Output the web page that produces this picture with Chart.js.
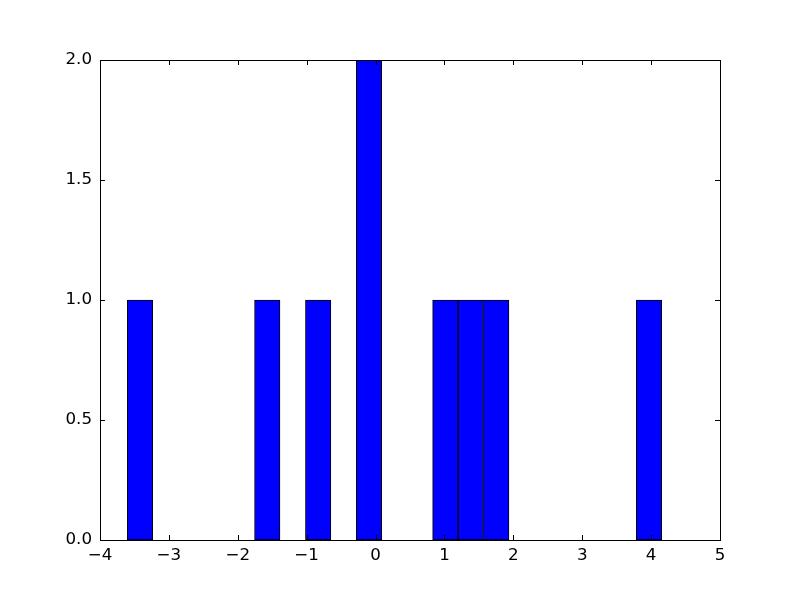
<!DOCTYPE html>
<html>
<head>
<meta charset="utf-8">
<script src="https://cdn.jsdelivr.net/npm/chart.js@4.4.0/dist/chart.umd.min.js"></script>
<style>
  html, body { margin: 0; padding: 0; background: #fff; }
  #wrap { width: 800px; height: 600px; }
</style>
</head>
<body>
<div id="wrap"><canvas id="hist" width="800" height="600"></canvas></div>
<script>
// histogram bins (centres) and counts
const binCenters = [-3.419, -3.050, -2.680, -2.311, -1.942, -1.572, -1.203, -0.833, -0.464, -0.095,
                    0.275, 0.644, 1.013, 1.383, 1.752, 2.122, 2.491, 2.861, 3.230, 3.599, 3.969];
const counts = [1, 0, 0, 0, 0, 1, 0, 1, 0, 2, 0, 0, 1, 1, 1, 0, 0, 0, 0, 0, 1];
const xTicks = [-4, -3, -2, -1, 0, 1, 2, 3, 4, 5];
const yTicks = [0.0, 0.5, 1.0, 1.5, 2.0];

let puntos = [];
for (let i = 0; i < binCenters.length; i++){
    puntos.push({x: binCenters[i], y: counts[i] > 0 ? counts[i] : null});
}

// matplotlib style frame with inward ticks on all sides
const marcoPlugin = {
  id: 'marco',
  afterDraw(chart) {
    const ctx = chart.ctx;
    const a = chart.chartArea;
    const sx = chart.scales.x, sy = chart.scales.y;
    const len = 5;
    ctx.save();
    ctx.strokeStyle = '#000';
    ctx.lineWidth = 1;
    ctx.beginPath();
    xTicks.forEach(v => {
      const px = Math.round(sx.getPixelForValue(v)) + 0.5;
      ctx.moveTo(px, a.bottom); ctx.lineTo(px, a.bottom - len);
      ctx.moveTo(px, a.top); ctx.lineTo(px, a.top + len);
    });
    yTicks.forEach(v => {
      const py = Math.round(sy.getPixelForValue(v)) + 0.5;
      ctx.moveTo(a.left, py); ctx.lineTo(a.left + len, py);
      ctx.moveTo(a.right, py); ctx.lineTo(a.right - len, py);
    });
    ctx.stroke();
    ctx.strokeRect(Math.round(a.left) + 0.5, Math.round(a.top) + 0.5,
                   Math.round(a.right - a.left), Math.round(a.bottom - a.top));
    ctx.restore();
  }
};

const ctx = document.getElementById('hist').getContext('2d');
const myChart = new Chart(ctx, {
  type: 'bar',
  data: {
    datasets: [{
      data: puntos,
      backgroundColor: '#0000ff',
      borderColor: '#000000',
      borderWidth: 1,
      borderSkipped: false,
      barPercentage: 1.0,
      categoryPercentage: 1.0
    }]
  },
  options: {
    responsive: false,
    animation: false,
    layout: { padding: { top: 60, right: 80, left: 0, bottom: 0 } },
    plugins: { legend: { display: false }, tooltip: { enabled: false } },
    scales: {
      x: {
        type: 'linear',
        offset: false,
        min: -4,
        max: 5,
        afterBuildTicks: s => { s.ticks = xTicks.map(v => ({value: v})); },
        afterFit: s => { s.height = 60; },
        grid: { display: false, drawTicks: false },
        border: { display: false },
        ticks: {
          padding: 6,
          color: '#000',
          maxRotation: 0,
          font: { family: 'DejaVu Sans', size: 16.7 },
          callback: v => String(v).replace('-', '\u2212')
        }
      },
      y: {
        min: 0,
        max: 2,
        afterBuildTicks: s => { s.ticks = yTicks.map(v => ({value: v})); },
        afterFit: s => { s.width = 100; },
        grid: { display: false, drawTicks: false },
        border: { display: false },
        ticks: {
          padding: 8,
          color: '#000',
          font: { family: 'DejaVu Sans', size: 16.7 },
          callback: v => Number(v).toFixed(1)
        }
      }
    }
  },
  plugins: [marcoPlugin]
});
</script>
</body>
</html>
